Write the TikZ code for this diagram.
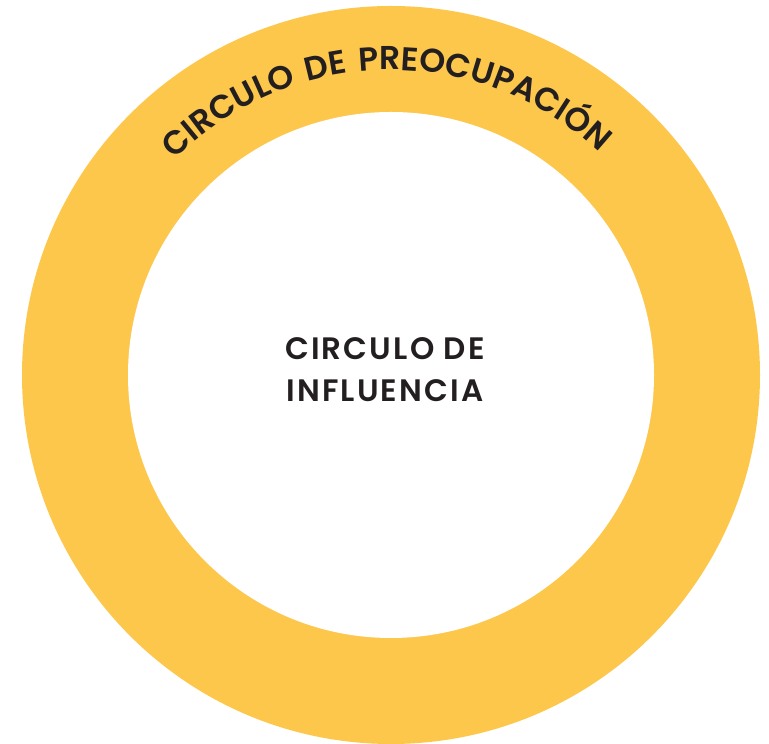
\documentclass[tikz,border=0pt]{standalone}
\usepackage{fontspec}
\setmainfont{Poppins}[BoldFont={Poppins SemiBold}]
\usetikzlibrary{decorations.text}
\definecolor{concern}{HTML}{FDC74B}
\definecolor{ink}{HTML}{231F20}

\begin{document}
\begin{tikzpicture}[x=1pt,y=1pt]
    \useasboundingbox (0,0) rectangle (769,744);
    %draw circles
    \fill[concern] (391,369) circle[radius=369];
    \fill[white] (391,369) circle[radius=263];
    %draw labels
    \node[text=ink,align=center,font=\bfseries\fontsize{31}{42}\selectfont\addfontfeatures{LetterSpace=7}] (influence) at (385,374) {CIRCULO DE\\INFLUENCIA};
    \path[decorate,decoration={text along path,text align=center,
        text={|\bfseries\fontsize{33}{33}\selectfont\addfontfeatures{LetterSpace=10}\color{ink}|CIRCULO DE PREOCUPACIÓN}}]
        (391,369) ++(174:305) arc[start angle=174,end angle=8,radius=305];
\end{tikzpicture}
\end{document}
